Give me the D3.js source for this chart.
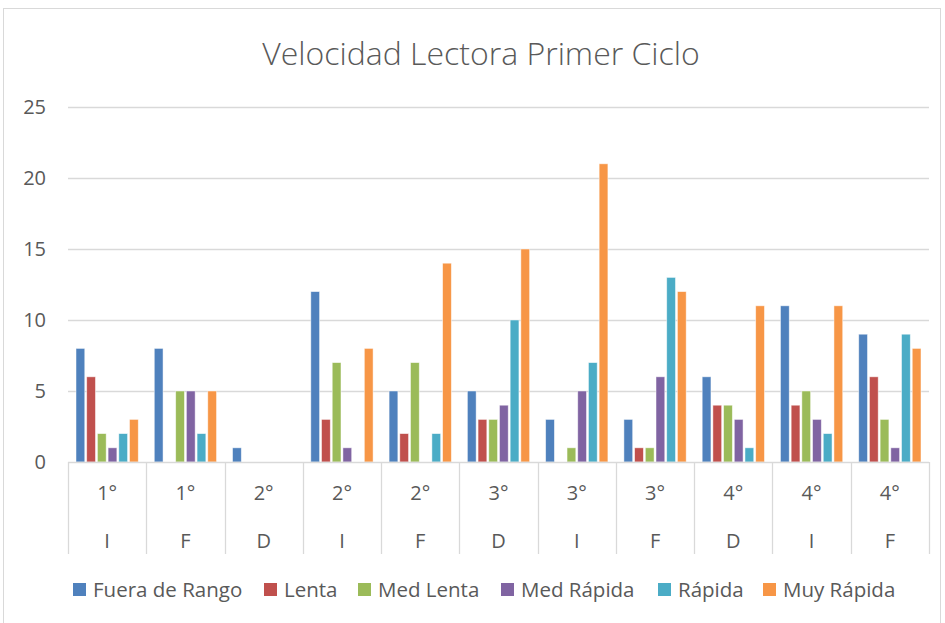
<!DOCTYPE html>
<html>
<head>
<meta charset="utf-8">
<style>
    body { margin: 0; background: #fff; }
    text { font-family: "Open Sans", "Noto Sans", sans-serif; fill: #595959; }
</style>
</head>
<body>
<svg width="945" height="623"></svg>
<script src="https://d3js.org/d3.v7.min.js"></script>
<script>
    // data
    let grades = ["1°", "1°", "2°", "2°", "2°", "3°", "3°", "3°", "4°", "4°", "4°"];
    let stages = ["I", "F", "D", "I", "F", "D", "I", "F", "D", "I", "F"];
    let series = ["Fuera de Rango", "Lenta", "Med Lenta", "Med Rápida", "Rápida", "Muy Rápida"];
    let fueraDeRango = [8, 8, 1, 12, 5, 5, 3, 3, 6, 11, 9];
    let lenta        = [6, 0, 0, 3, 2, 3, 0, 1, 4, 4, 6];
    let medLenta     = [2, 5, 0, 7, 7, 3, 1, 1, 4, 5, 3];
    let medRapida    = [1, 5, 0, 1, 0, 4, 5, 6, 3, 3, 1];
    let rapida       = [2, 2, 0, 0, 2, 10, 7, 13, 1, 2, 9];
    let muyRapida    = [3, 5, 0, 8, 14, 15, 21, 12, 11, 11, 8];
    let yTicks = [0, 5, 10, 15, 20, 25];
    let colors = ["#4F81BD", "#C0504D", "#9BBB59", "#8064A2", "#4BACC6", "#F79646"];

    let values = [fueraDeRango, lenta, medLenta, medRapida, rapida, muyRapida];
    let groups = d3.range(grades.length);

    let svg = d3.select("svg");

    // chart frame
    svg.append("rect")
        .attr("x", 3.5).attr("y", 8.5)
        .attr("width", 937).attr("height", 640)
        .style("fill", "none")
        .style("stroke", "#d9d9d9")

    svg.append("text")
        .attr("x", 481).attr("y", 65)
        .attr("text-anchor", "middle")
        .style("font-size", "32px")
        .style("font-weight", 300)
        .text("Velocidad Lectora Primer Ciclo")

    let plotLeft = 68, plotRight = 929, plotTop = 107, plotBottom = 462;

    let x0 = d3.scaleBand()
        .domain(groups)
        .range([plotLeft, plotRight])

    let x1 = d3.scaleBand()
        .domain(series)
        .range([8, x0.bandwidth() - 8])
        .paddingInner(0.18)

    let y = d3.scaleLinear()
        .domain([0, 25])
        .range([plotBottom, plotTop])

    // gridlines
    svg.selectAll(".grid")
        .data(yTicks.slice(1))
        .join("line")
        .attr("x1", plotLeft).attr("x2", plotRight)
        .attr("y1", d => Math.round(y(d)) + 0.5)
        .attr("y2", d => Math.round(y(d)) + 0.5)
        .style("stroke", "#d9d9d9")
        .style("stroke-width", 1.3)

    svg.selectAll(".ylab")
        .data(yTicks)
        .join("text")
        .attr("x", 46)
        .attr("y", d => y(d) + 7)
        .attr("text-anchor", "end")
        .style("font-size", "20px")
        .text(d => d)

    // bars
    let barData = [];
    series.forEach((s, i) => {
        groups.forEach(g => {
            if (values[i][g] > 0) barData.push({ s: s, i: i, g: g, v: values[i][g] });
        });
    });

    svg.selectAll(".bar")
        .data(barData)
        .join("rect")
        .attr("x", d => x0(d.g) + x1(d.s))
        .attr("y", d => y(d.v))
        .attr("width", x1.bandwidth())
        .attr("height", d => y(0) - y(d.v))
        .style("fill", d => colors[d.i])
        .style("stroke", "#fff")
        .style("stroke-opacity", 0.6)
        .style("stroke-width", 0.8)

    // category axis
    svg.append("line")
        .attr("x1", plotLeft).attr("x2", plotRight)
        .attr("y1", plotBottom + 0.5).attr("y2", plotBottom + 0.5)
        .style("stroke", "#d9d9d9")
        .style("stroke-width", 1.3)

    svg.selectAll(".sep")
        .data(groups.concat([groups.length]))
        .join("line")
        .attr("x1", d => Math.round(d < groups.length ? x0(d) : plotRight) + 0.5)
        .attr("x2", d => Math.round(d < groups.length ? x0(d) : plotRight) + 0.5)
        .attr("y1", plotBottom).attr("y2", 554)
        .style("stroke", "#d9d9d9")
        .style("stroke-width", 1.3)

    svg.selectAll(".grade")
        .data(groups)
        .join("text")
        .attr("x", d => x0(d) + x0.bandwidth() / 2)
        .attr("y", 500)
        .attr("text-anchor", "middle")
        .style("font-size", "20px")
        .text(d => grades[d])

    svg.selectAll(".stage")
        .data(groups)
        .join("text")
        .attr("x", d => x0(d) + x0.bandwidth() / 2)
        .attr("y", 548)
        .attr("text-anchor", "middle")
        .style("font-size", "20px")
        .text(d => stages[d])

    // legend
    let legendX = [73, 264, 358, 501, 658, 763];
    let legend = svg.selectAll(".legend")
        .data(series)
        .join("g")
        .attr("transform", (d, i) => `translate(${legendX[i]},583)`)

    legend.append("rect")
        .attr("width", 13).attr("height", 13)
        .style("fill", (d, i) => colors[i])

    legend.append("text")
        .attr("x", 20).attr("y", 14)
        .style("font-size", "20.5px")
        .text(d => d)
</script>
</body>
</html>
